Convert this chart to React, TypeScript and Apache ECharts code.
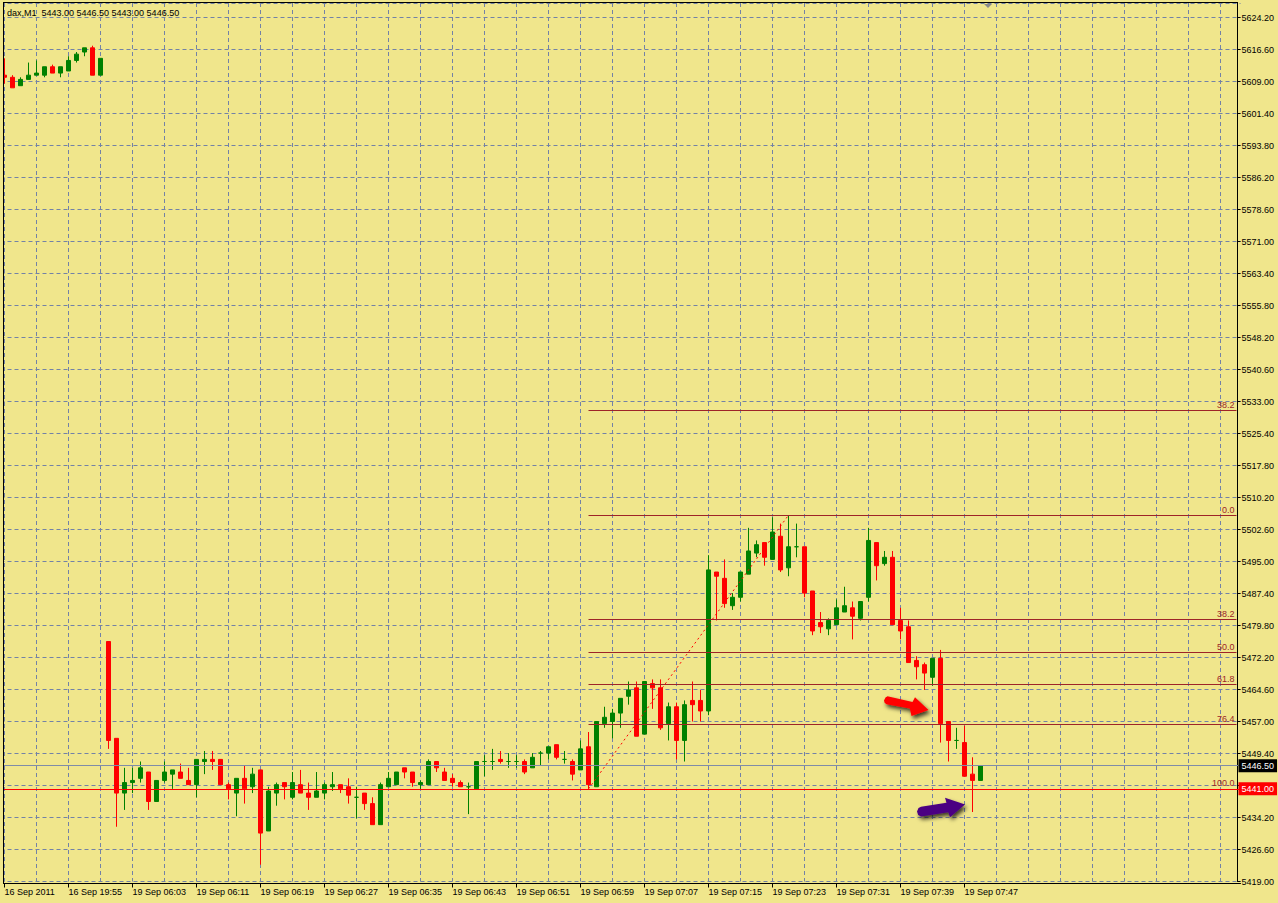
import React, { useEffect, useRef } from "react";
import * as echarts from "echarts";

// ---- OHLC values (index 0 = first visible bar) ----
const opens = [
  5610.5, 5610.0, 5608.0, 5609.5, 5610.5, 5610.5, 5612.5, 5611.0, 5611.5, 5614.0,
  5616.0, 5617.0, 5610.5, 5476.0, 5453.0, 5440.0, 5442.5, 5443.5, 5445.0, 5438.0,
  5443.0, 5444.5, 5445.0, 5443.0, 5442.0, 5447.5, 5448.0, 5448.0, 5442.0, 5440.0,
  5443.5, 5441.5, 5445.5, 5431.0, 5440.0, 5442.5, 5439.0, 5442.0, 5440.0, 5439.0,
  5440.0, 5441.5, 5442.0, 5441.5, 5439.0, 5440.0, 5437.5, 5432.5, 5441.5, 5442.0,
  5446.0, 5445.0, 5442.0, 5442.0, 5447.5, 5445.0, 5443.5, 5442.5, 5441.5, 5441.0,
  5447.5, 5447.5, 5448.0, 5447.5, 5447.5, 5447.5, 5446.0, 5449.5, 5449.5, 5451.5,
  5448.0, 5447.5, 5445.5, 5451.0, 5441.5, 5456.5, 5457.0, 5459.0, 5463.0, 5465.0,
  5454.0, 5466.0, 5465.0, 5456.5, 5460.5, 5452.5, 5462.0, 5462.0, 5459.5, 5492.5,
  5491.0, 5484.5, 5486.5, 5492.0, 5497.0, 5499.5, 5495.5, 5501.0, 5493.5, 5498.5,
  5498.5, 5488.0, 5480.5, 5479.0, 5480.0, 5483.0, 5484.0, 5481.5, 5486.5, 5499.5,
  5494.5, 5496.0, 5481.0, 5479.5, 5471.5, 5470.5, 5467.5, 5472.0, 5457.0, 5452.5,
  5452.0, 5444.5, 5443.0,
];
const highs = [
  5614.5, 5610.5, 5610.0, 5613.5, 5614.0, 5612.5, 5613.0, 5612.5, 5615.0, 5616.0,
  5617.0, 5617.5, 5614.5, 5476.0, 5453.0, 5446.0, 5446.0, 5447.5, 5445.0, 5443.0,
  5447.5, 5445.5, 5447.0, 5446.0, 5448.0, 5450.0, 5450.0, 5448.0, 5442.5, 5443.5,
  5446.5, 5446.0, 5445.5, 5441.5, 5442.5, 5442.5, 5445.0, 5445.5, 5442.5, 5445.0,
  5442.5, 5445.0, 5442.0, 5443.5, 5441.5, 5440.0, 5439.0, 5442.5, 5445.0, 5445.0,
  5446.0, 5445.0, 5443.0, 5448.0, 5447.5, 5446.0, 5444.5, 5443.0, 5442.5, 5447.5,
  5449.0, 5450.5, 5450.0, 5449.5, 5449.0, 5448.0, 5449.5, 5450.0, 5451.0, 5451.5,
  5450.0, 5448.0, 5452.5, 5454.5, 5457.0, 5460.5, 5460.0, 5462.5, 5466.5, 5466.5,
  5466.5, 5467.0, 5467.0, 5461.5, 5461.5, 5462.0, 5466.5, 5464.5, 5496.5, 5492.5,
  5495.5, 5487.5, 5492.5, 5503.0, 5500.0, 5499.5, 5505.5, 5504.0, 5506.0, 5504.0,
  5498.5, 5488.0, 5483.0, 5481.5, 5486.0, 5489.0, 5485.5, 5485.5, 5503.0, 5499.5,
  5497.5, 5497.5, 5484.0, 5481.0, 5472.5, 5471.0, 5472.0, 5474.0, 5457.0, 5455.5,
  5456.0, 5448.5, 5446.5,
];
const lows = [
  5608.5, 5607.5, 5608.0, 5609.5, 5610.5, 5610.0, 5611.0, 5610.0, 5611.5, 5613.5,
  5615.0, 5610.5, 5610.5, 5450.5, 5432.0, 5436.0, 5440.0, 5442.5, 5436.0, 5438.0,
  5442.5, 5441.0, 5443.5, 5442.0, 5439.0, 5444.5, 5445.5, 5442.0, 5438.5, 5434.5,
  5437.5, 5440.0, 5423.0, 5431.0, 5437.0, 5438.5, 5438.5, 5440.0, 5436.0, 5439.0,
  5438.5, 5440.5, 5440.0, 5437.5, 5434.0, 5436.0, 5432.5, 5432.5, 5441.5, 5442.0,
  5443.5, 5441.5, 5441.0, 5442.0, 5445.0, 5443.0, 5441.5, 5441.5, 5435.0, 5441.0,
  5444.0, 5445.5, 5447.0, 5446.0, 5446.0, 5444.5, 5446.0, 5446.5, 5448.0, 5448.0,
  5447.0, 5443.0, 5445.5, 5441.0, 5441.5, 5455.5, 5453.0, 5455.5, 5461.0, 5453.5,
  5454.0, 5460.0, 5455.0, 5452.5, 5448.0, 5447.5, 5457.0, 5457.0, 5458.5, 5481.0,
  5484.0, 5483.5, 5485.5, 5492.0, 5496.0, 5494.0, 5495.5, 5492.5, 5491.5, 5496.0,
  5486.5, 5477.5, 5478.0, 5477.5, 5480.0, 5483.0, 5476.5, 5481.0, 5485.5, 5490.5,
  5494.0, 5480.0, 5476.5, 5471.0, 5467.0, 5464.5, 5465.5, 5452.0, 5447.5, 5450.5,
  5444.0, 5435.5, 5443.0,
];
const closes = [
  5610.0, 5607.5, 5609.5, 5610.5, 5611.0, 5612.5, 5611.0, 5612.5, 5614.0, 5615.5,
  5617.0, 5610.5, 5614.5, 5452.5, 5440.0, 5442.5, 5443.0, 5446.0, 5438.0, 5443.0,
  5445.0, 5445.5, 5443.5, 5442.0, 5448.0, 5448.0, 5447.5, 5442.0, 5441.0, 5443.5,
  5441.0, 5444.5, 5430.5, 5440.5, 5442.0, 5441.5, 5442.5, 5440.0, 5439.0, 5440.5,
  5442.0, 5442.0, 5441.0, 5439.5, 5439.0, 5437.5, 5432.5, 5442.0, 5443.5, 5445.0,
  5445.0, 5442.5, 5442.5, 5447.5, 5446.0, 5443.0, 5442.5, 5441.5, 5441.5, 5447.5,
  5447.5, 5447.5, 5447.5, 5447.5, 5447.5, 5445.0, 5448.5, 5449.5, 5451.0, 5448.5,
  5448.0, 5444.5, 5450.5, 5442.0, 5457.0, 5458.0, 5459.0, 5462.5, 5464.5, 5453.5,
  5466.5, 5465.0, 5455.5, 5460.5, 5452.5, 5461.0, 5461.0, 5459.5, 5493.0, 5491.5,
  5485.0, 5486.5, 5492.5, 5497.5, 5499.0, 5496.0, 5502.0, 5493.0, 5498.5, 5498.5,
  5487.5, 5478.5, 5479.5, 5481.0, 5484.0, 5484.5, 5482.0, 5485.5, 5500.0, 5494.0,
  5496.0, 5480.0, 5478.5, 5471.0, 5470.0, 5468.5, 5472.0, 5456.5, 5452.5, 5452.5,
  5444.0, 5443.0, 5446.5,
];

// ---- axis / annotation values ----
const emptySlots = 32; // empty bar slots to the right of the last bar
const firstLabel = "16 Sep 2011";
const yMin = 5419.0;
const yStep = 7.6;
const yMax = 5627.644;
const bidPrice = 5446.5;
const linePrice = 5441.0;
const fibLow = 5441.0;
const fibHigh = 5506.0;
const fibStartIndex = 73;
const fibEndIndex = 98;
const fibLevels = [0.0, 38.2, 50.0, 61.8, 76.4, 100.0, -38.2];
const fibLabels = ["0.0", "38.2", "50.0", "61.8", "76.4", "100.0", "38.2"];
const hiddenAxisLabels = [5441.8]; // covered by the 5441.00 price tag

const pad = (n: number) => (n < 10 ? "0" + n : String(n));
const totalSlots = opens.length + emptySlots;
const categories: string[] = [];
for (let k = 0; k < totalSlots; k++) {
  if (k < 13) categories.push(`16 Sep 19:${47 + k}`);
  else {
    const m = k - 13;
    categories.push(`19 Sep ${pad(6 + Math.floor(m / 60))}:${pad(m % 60)}`);
  }
}

const BG = "#F0E68C";
const GRID = "#7382A6";
const FIB = "#9E2428";
const FONT = "'Liberation Sans', Arial, sans-serif";

export default function App() {
  const ref = useRef<HTMLDivElement>(null);
  useEffect(() => {
    if (!ref.current) return;
    const chart = echarts.init(ref.current, undefined, { renderer: "svg" });
    const candleData = opens.map((o, i) => [o, closes[i], lows[i], highs[i]]);
    const lastIdx = totalSlots - 1;
    const labelInterval = (index: number) => index % 8 === 0 && index <= 120;
    const gridInterval = (index: number) => index % 4 === 0;

    const fibLines = fibLevels.map((lv, i) => {
      const price = fibHigh - ((fibHigh - fibLow) * lv) / 100;
      return [
        {
          coord: [fibStartIndex, price],
          lineStyle: { color: FIB, width: 1, type: "solid" },
          label: {
            show: true,
            position: "insideEndTop",
            formatter: fibLabels[i],
            color: FIB,
            fontSize: 9,
            fontFamily: FONT,
            distance: [2, 1],
          },
        },
        { coord: [lastIdx, price] },
      ];
    });

    const last = opens.length - 1;
    const header = `dax,M1  ${opens[last].toFixed(2)} ${highs[last].toFixed(2)} ${lows[last].toFixed(2)} ${closes[last].toFixed(2)}`;

    const priceTag = (bg: string) => ({
      show: true,
      position: "end",
      distance: -2,
      formatter: (p: any) => Number(p.value).toFixed(2),
      backgroundColor: bg,
      color: "#FFFFFF",
      padding: [2, 3, 2, 3],
      fontSize: 9,
      fontFamily: FONT,
    });

    const option: any = {
      animation: false,
      backgroundColor: BG,
      textStyle: { fontFamily: FONT },
      grid: {
        left: 0.5,
        top: 3,
        width: 1240,
        height: 878.5,
        containLabel: false,
        outerBoundsMode: "none",
      },
      xAxis: {
        type: "category",
        data: categories,
        boundaryGap: true,
        offset: 2,
        axisLine: { show: true, lineStyle: { color: "#000", width: 1 } },
        axisTick: {
          show: true,
          alignWithLabel: true,
          length: 4,
          interval: labelInterval,
          lineStyle: { color: "#000" },
        },
        axisLabel: {
          interval: labelInterval,
          align: "left",
          margin: 4,
          fontSize: 9,
          fontFamily: FONT,
          color: "#000",
          formatter: (v: string, idx: number) => (idx === 0 ? firstLabel : v),
        },
        splitLine: {
          show: true,
          alignWithLabel: true,
          interval: gridInterval,
          lineStyle: { color: GRID, type: [4, 3], width: 1 },
        },
      },
      yAxis: {
        type: "value",
        position: "right",
        offset: -3,
        min: yMin,
        max: yMax,
        interval: yStep,
        axisLine: { show: true, lineStyle: { color: "#000", width: 1 } },
        axisTick: { show: true, length: 3, lineStyle: { color: "#000" } },
        axisLabel: {
          margin: 4,
          fontSize: 9,
          fontFamily: FONT,
          color: "#000",
          showMaxLabel: false,
          formatter: (v: number) =>
            hiddenAxisLabels.some((h) => Math.abs(h - v) < 0.01) ? "" : v.toFixed(2),
        },
        splitLine: {
          show: true,
          lineStyle: { color: GRID, type: [4, 3], width: 1 },
        },
      },
      series: [
        {
          type: "candlestick",
          data: candleData,
          barWidth: 4,
          clip: true,
          itemStyle: {
            color: "#008000",
            color0: "#FF0000",
            borderColor: "#008000",
            borderColor0: "#FF0000",
            borderColorDoji: "#008000",
            borderWidth: 1,
          },
          markLine: {
            silent: true,
            symbol: ["none", "none"],
            animation: false,
            data: [
              ...fibLines,
              [
                {
                  coord: [fibStartIndex, fibLow],
                  lineStyle: { color: "#FF0000", width: 1, type: [2, 3] },
                  label: { show: false },
                },
                { coord: [fibEndIndex, fibHigh] },
              ],
              {
                yAxis: linePrice,
                lineStyle: { color: "#FF0000", width: 1, type: "solid" },
                label: priceTag("#FF0000"),
              },
              {
                yAxis: bidPrice,
                lineStyle: { color: "#7F8CA8", width: 1, type: "solid" },
                label: priceTag("#000000"),
              },
            ],
          },
        },
      ],
      graphic: [
        { type: "rect", z: 100, shape: { x: 0, y: 0, width: 3, height: 884 }, style: { fill: BG } },
        { type: "line", z: 101, shape: { x1: 3.5, y1: 2.5, x2: 3.5, y2: 884 }, style: { stroke: "#000", lineWidth: 1 } },
        { type: "line", z: 101, shape: { x1: 3, y1: 2.5, x2: 1238, y2: 2.5 }, style: { stroke: "#000", lineWidth: 1 } },
        {
          type: "polygon",
          z: 101,
          shape: { points: [[984, 4], [992, 4], [988, 8]] },
          style: { fill: "#8A8A8A" },
        },
        {
          type: "text",
          z: 101,
          x: 7,
          y: 12.5,
          style: { text: header, fill: "#000", fontSize: 9, fontFamily: FONT, verticalAlign: "middle" },
        },
        {
          type: "polygon",
          z: 102,
          shape: {
            points: [
              [884, 700.5], [885.5, 697.5], [887.5, 696.2], [912.5, 702], [915, 697.3],
              [928.5, 710], [911.5, 716], [909.8, 708.5], [886.5, 704.3], [884.6, 702.8],
            ],
          },
          style: {
            fill: "#FF0000",
            shadowBlur: 4,
            shadowColor: "rgba(0,0,0,0.75)",
            shadowOffsetX: 2,
            shadowOffsetY: 3,
          },
        },
        {
          type: "polygon",
          z: 102,
          shape: {
            points: [
              [917, 811.5], [918.5, 808], [921, 806.7], [946.5, 802.7], [945, 797.7],
              [965, 804.5], [950, 817.3], [948.3, 812.3], [921, 816.6], [918.2, 815],
            ],
          },
          style: {
            fill: "#4B0082",
            shadowBlur: 4,
            shadowColor: "rgba(0,0,0,0.75)",
            shadowOffsetX: 2,
            shadowOffsetY: 3,
          },
        },
      ],
    };
    chart.setOption(option);
    return () => chart.dispose();
  }, []);
  return (
    <div
      ref={ref}
      style={{ position: "fixed", left: 0, top: 0, width: 1278, height: 903 }}
    />
  );
}
